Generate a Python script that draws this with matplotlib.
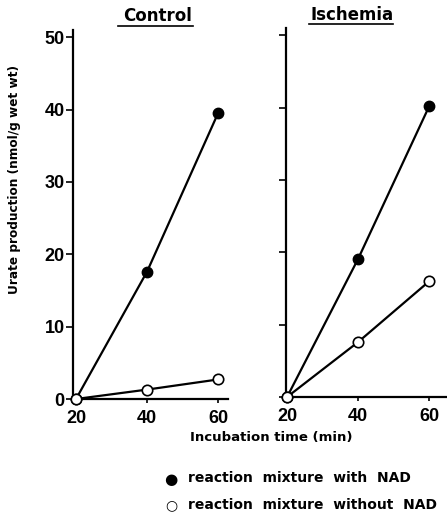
# urate production vs incubation time, control vs ischemia
import matplotlib
matplotlib.use("Agg")
import matplotlib.pyplot as plt

# data
time_min = [20, 40, 60]
control_with_nad = [0, 17.6, 39.5]
control_without_nad = [0, 1.3, 2.7]
ischemia_with_nad = [0, 19.1, 40.2]
ischemia_without_nad = [0, 7.6, 16.0]
panel_titles = ["Control", "Ischemia"]
y_ticks = [0, 10, 20, 30, 40, 50]
x_ticks = [20, 40, 60]

plt.rcParams['font.family'] = ['DejaVu Sans']
plt.rcParams['font.weight'] = 'bold'

fig = plt.figure(figsize=(4.47, 5.23), dpi=100)
W, H = 447, 523

def px_axes(x0, x1, ytop, ybot):
    return fig.add_axes([x0 / W, 1 - ybot / H, (x1 - x0) / W, (ybot - ytop) / H])

ax1 = px_axes(73, 228, 30, 399)
ax2 = px_axes(286, 447, 28, 397)

panels = [(ax1, control_with_nad, control_without_nad, (19.15, 62.8)),
          (ax2, ischemia_with_nad, ischemia_without_nad, (19.7, 65.0))]

for i, (ax, with_nad, without_nad, xlim) in enumerate(panels):
    ax.plot(time_min, with_nad, color='black', lw=1.6, marker='o', ms=7.5,
            mfc='black', mec='black', clip_on=False, zorder=3)
    ax.plot(time_min, without_nad, color='black', lw=1.6, marker='o', ms=7.5,
            mfc='white', mec='black', mew=1.2, clip_on=False, zorder=3)
    ax.set_xlim(*xlim)
    ax.set_ylim(0, 51)
    ax.spines['top'].set_visible(False)
    ax.spines['right'].set_visible(False)
    ax.spines['left'].set_linewidth(1.6)
    ax.spines['bottom'].set_linewidth(1.6)
    ax.set_xticks(x_ticks)
    ax.set_yticks(y_ticks)
    ax.tick_params(axis='x', length=3, width=1.2, pad=5, labelsize=13)
    ax.tick_params(axis='y', length=5, width=1.2, pad=1, labelsize=13)
    for lab in ax.get_xticklabels() + ax.get_yticklabels():
        lab.set_family('Liberation Sans')
        lab.set_fontweight('bold')
    if i == 1:
        ax.tick_params(axis='y', labelleft=False)
    ax.patch.set_alpha(0)

# underlined panel titles
fig.text(158 / W, 1 - 16 / H, panel_titles[0], ha='center', va='center', fontsize=12)
fig.text(352 / W, 1 - 15 / H, panel_titles[1], ha='center', va='center', fontsize=12)
fig.add_artist(plt.Line2D([118 / W, 193 / W], [1 - 26 / H, 1 - 26 / H], color='black', lw=1.2))
fig.add_artist(plt.Line2D([309 / W, 393 / W], [1 - 24 / H, 1 - 24 / H], color='black', lw=1.2))

fig.text(15 / W, 1 - 180 / H, "Urate production (nmol/g wet wt)",
         rotation=90, ha='center', va='center', fontsize=8.7)
fig.text(271 / W, 1 - 438 / H, "Incubation time (min)",
         ha='center', va='center', fontsize=9.5)

# legend written as text lines
fig.text(171 / W, 1 - 479 / H, "\u25cf", ha='center', va='center', fontsize=11)
fig.text(188 / W, 1 - 478 / H, "reaction  mixture  with  NAD", ha='left', va='center',
         fontsize=10)
fig.text(171 / W, 1 - 505 / H, "\u25cb", ha='center', va='center', fontsize=10)
fig.text(188 / W, 1 - 505 / H, "reaction  mixture  without  NAD", ha='left', va='center',
         fontsize=10)

fig.savefig("out.png", dpi=100)
